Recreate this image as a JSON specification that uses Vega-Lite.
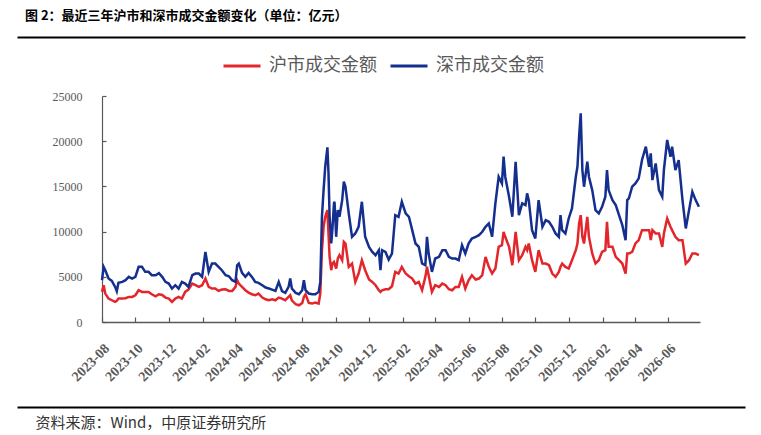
{
  "$schema": "https://vega.github.io/schema/vega-lite/v6.json",
  "autosize": {"type": "none"},
  "width": 598,
  "height": 226,
  "padding": {"left": 102, "top": 96, "right": 61, "bottom": 113},
  "background": "#ffffff",
  "title": {
    "text": "图 2：最近三年沪市和深市成交金额变化（单位：亿元）",
    "anchor": "start",
    "frame": "group",
    "dx": -77,
    "offset": 14,
    "font": "Noto Sans CJK SC",
    "fontSize": 13,
    "fontWeight": "bold",
    "color": "#000000"
  },
  "config": {
    "font": "Liberation Serif",
    "view": {"stroke": null}
  },
  "data": {
    "values": [
      {"date": "2023-08-01", "sh": 3329, "sz": 4622},
      {"date": "2023-08-04", "sh": 4068, "sz": 6099},
      {"date": "2023-08-07", "sh": 3145, "sz": 5730},
      {"date": "2023-08-13", "sh": 2591, "sz": 4807},
      {"date": "2023-08-19", "sh": 2406, "sz": 4550},
      {"date": "2023-08-25", "sh": 2221, "sz": 3883},
      {"date": "2023-08-28", "sh": 2332, "sz": 3403},
      {"date": "2023-08-31", "sh": 2591, "sz": 4327},
      {"date": "2023-09-07", "sh": 2591, "sz": 4437},
      {"date": "2023-09-13", "sh": 2628, "sz": 4622},
      {"date": "2023-09-19", "sh": 2775, "sz": 4991},
      {"date": "2023-09-25", "sh": 2775, "sz": 4807},
      {"date": "2023-10-01", "sh": 2960, "sz": 4991},
      {"date": "2023-10-07", "sh": 3514, "sz": 6099},
      {"date": "2023-10-13", "sh": 3329, "sz": 6099},
      {"date": "2023-10-19", "sh": 3329, "sz": 5545},
      {"date": "2023-10-25", "sh": 3329, "sz": 5545},
      {"date": "2023-10-31", "sh": 3071, "sz": 5176},
      {"date": "2023-11-07", "sh": 2849, "sz": 5176},
      {"date": "2023-11-13", "sh": 3071, "sz": 5398},
      {"date": "2023-11-19", "sh": 2997, "sz": 4991},
      {"date": "2023-11-25", "sh": 2701, "sz": 4437},
      {"date": "2023-12-01", "sh": 2591, "sz": 4253},
      {"date": "2023-12-07", "sh": 2221, "sz": 3699},
      {"date": "2023-12-13", "sh": 2591, "sz": 4068},
      {"date": "2023-12-19", "sh": 2775, "sz": 3699},
      {"date": "2023-12-25", "sh": 2591, "sz": 4437},
      {"date": "2023-12-31", "sh": 3329, "sz": 4253},
      {"date": "2024-01-06", "sh": 3588, "sz": 3883},
      {"date": "2024-01-13", "sh": 4253, "sz": 5176},
      {"date": "2024-01-19", "sh": 4068, "sz": 5361},
      {"date": "2024-01-25", "sh": 3883, "sz": 5361},
      {"date": "2024-01-31", "sh": 4068, "sz": 4991},
      {"date": "2024-02-06", "sh": 4807, "sz": 7761},
      {"date": "2024-02-12", "sh": 3883, "sz": 5545},
      {"date": "2024-02-18", "sh": 3699, "sz": 6468},
      {"date": "2024-02-24", "sh": 3699, "sz": 6468},
      {"date": "2024-03-01", "sh": 3440, "sz": 6099},
      {"date": "2024-03-07", "sh": 3588, "sz": 5730},
      {"date": "2024-03-14", "sh": 3625, "sz": 5176},
      {"date": "2024-03-20", "sh": 3440, "sz": 5065},
      {"date": "2024-03-26", "sh": 3440, "sz": 4622},
      {"date": "2024-04-01", "sh": 3883, "sz": 4437},
      {"date": "2024-04-04", "sh": 4622, "sz": 6284},
      {"date": "2024-04-07", "sh": 4253, "sz": 6468},
      {"date": "2024-04-13", "sh": 3883, "sz": 5435},
      {"date": "2024-04-19", "sh": 3514, "sz": 4991},
      {"date": "2024-04-25", "sh": 3256, "sz": 5435},
      {"date": "2024-05-01", "sh": 3071, "sz": 4991},
      {"date": "2024-05-07", "sh": 2960, "sz": 4437},
      {"date": "2024-05-13", "sh": 3145, "sz": 4327},
      {"date": "2024-05-20", "sh": 2701, "sz": 4068},
      {"date": "2024-05-26", "sh": 2517, "sz": 3810},
      {"date": "2024-06-01", "sh": 2406, "sz": 3699},
      {"date": "2024-06-07", "sh": 2517, "sz": 3588},
      {"date": "2024-06-13", "sh": 2406, "sz": 3440},
      {"date": "2024-06-19", "sh": 2701, "sz": 4437},
      {"date": "2024-06-25", "sh": 2591, "sz": 3403},
      {"date": "2024-07-01", "sh": 2406, "sz": 3218},
      {"date": "2024-07-07", "sh": 2775, "sz": 3883},
      {"date": "2024-07-10", "sh": 2960, "sz": 4807},
      {"date": "2024-07-13", "sh": 2406, "sz": 3699},
      {"date": "2024-07-20", "sh": 1963, "sz": 3218},
      {"date": "2024-07-26", "sh": 1852, "sz": 3071},
      {"date": "2024-08-01", "sh": 2111, "sz": 3514},
      {"date": "2024-08-04", "sh": 2775, "sz": 4622},
      {"date": "2024-08-07", "sh": 3071, "sz": 3514},
      {"date": "2024-08-13", "sh": 2111, "sz": 3145},
      {"date": "2024-08-19", "sh": 2037, "sz": 3071},
      {"date": "2024-08-25", "sh": 2148, "sz": 3071},
      {"date": "2024-08-31", "sh": 2037, "sz": 3329},
      {"date": "2024-09-03", "sh": 3145, "sz": 4437},
      {"date": "2024-09-06", "sh": 7946, "sz": 11639},
      {"date": "2024-09-09", "sh": 10531, "sz": 14593},
      {"date": "2024-09-12", "sh": 11639, "sz": 17178},
      {"date": "2024-09-16", "sh": 12377, "sz": 19320},
      {"date": "2024-09-18", "sh": 9792, "sz": 16440},
      {"date": "2024-09-20", "sh": 7207, "sz": 11639},
      {"date": "2024-09-23", "sh": 5730, "sz": 8684},
      {"date": "2024-09-25", "sh": 6468, "sz": 10161},
      {"date": "2024-09-28", "sh": 6653, "sz": 13116},
      {"date": "2024-09-29", "sh": 6468, "sz": 13301},
      {"date": "2024-10-02", "sh": 5915, "sz": 9423},
      {"date": "2024-10-05", "sh": 7022, "sz": 12377},
      {"date": "2024-10-08", "sh": 7392, "sz": 11639},
      {"date": "2024-10-13", "sh": 6838, "sz": 13485},
      {"date": "2024-10-16", "sh": 8869, "sz": 15516},
      {"date": "2024-10-19", "sh": 8684, "sz": 14962},
      {"date": "2024-10-25", "sh": 6099, "sz": 12008},
      {"date": "2024-10-31", "sh": 6468, "sz": 9423},
      {"date": "2024-11-06", "sh": 4437, "sz": 9792},
      {"date": "2024-11-12", "sh": 5361, "sz": 10531},
      {"date": "2024-11-18", "sh": 6838, "sz": 13301},
      {"date": "2024-11-24", "sh": 5730, "sz": 9423},
      {"date": "2024-12-01", "sh": 4696, "sz": 8315},
      {"date": "2024-12-07", "sh": 4437, "sz": 7761},
      {"date": "2024-12-13", "sh": 4068, "sz": 7392},
      {"date": "2024-12-19", "sh": 3514, "sz": 7946},
      {"date": "2024-12-22", "sh": 3329, "sz": 5730},
      {"date": "2024-12-25", "sh": 3514, "sz": 7946},
      {"date": "2024-12-31", "sh": 3625, "sz": 7761},
      {"date": "2025-01-06", "sh": 3625, "sz": 6911},
      {"date": "2025-01-12", "sh": 3957, "sz": 7576},
      {"date": "2025-01-18", "sh": 5545, "sz": 11823},
      {"date": "2025-01-24", "sh": 5361, "sz": 11639},
      {"date": "2025-01-30", "sh": 6099, "sz": 13301},
      {"date": "2025-02-06", "sh": 5361, "sz": 12008},
      {"date": "2025-02-12", "sh": 5065, "sz": 11639},
      {"date": "2025-02-18", "sh": 4807, "sz": 10161},
      {"date": "2025-02-24", "sh": 4253, "sz": 8684},
      {"date": "2025-03-02", "sh": 4437, "sz": 8315},
      {"date": "2025-03-08", "sh": 3514, "sz": 6468},
      {"date": "2025-03-14", "sh": 4991, "sz": 6284},
      {"date": "2025-03-17", "sh": 6099, "sz": 9423},
      {"date": "2025-03-20", "sh": 5176, "sz": 7576},
      {"date": "2025-03-26", "sh": 3329, "sz": 5545},
      {"date": "2025-04-01", "sh": 4068, "sz": 7022},
      {"date": "2025-04-08", "sh": 3883, "sz": 7207},
      {"date": "2025-04-14", "sh": 4253, "sz": 7946},
      {"date": "2025-04-20", "sh": 4068, "sz": 7946},
      {"date": "2025-04-26", "sh": 3625, "sz": 7207},
      {"date": "2025-05-02", "sh": 3514, "sz": 7022},
      {"date": "2025-05-08", "sh": 3883, "sz": 7022},
      {"date": "2025-05-14", "sh": 3883, "sz": 6838},
      {"date": "2025-05-20", "sh": 4991, "sz": 8499},
      {"date": "2025-05-26", "sh": 3699, "sz": 7576},
      {"date": "2025-06-01", "sh": 4622, "sz": 8684},
      {"date": "2025-06-07", "sh": 5176, "sz": 9238},
      {"date": "2025-06-14", "sh": 4696, "sz": 9423},
      {"date": "2025-06-20", "sh": 4807, "sz": 9607},
      {"date": "2025-06-26", "sh": 5176, "sz": 9977},
      {"date": "2025-07-02", "sh": 7207, "sz": 10531},
      {"date": "2025-07-08", "sh": 6099, "sz": 10900},
      {"date": "2025-07-14", "sh": 5361, "sz": 9423},
      {"date": "2025-07-20", "sh": 5915, "sz": 13116},
      {"date": "2025-07-26", "sh": 8315, "sz": 16070},
      {"date": "2025-08-01", "sh": 8499, "sz": 15332},
      {"date": "2025-08-04", "sh": 9977, "sz": 18286},
      {"date": "2025-08-07", "sh": 9423, "sz": 16070},
      {"date": "2025-08-14", "sh": 8315, "sz": 13854},
      {"date": "2025-08-20", "sh": 6284, "sz": 11639},
      {"date": "2025-08-26", "sh": 9977, "sz": 17732},
      {"date": "2025-09-01", "sh": 6838, "sz": 11823},
      {"date": "2025-09-07", "sh": 7392, "sz": 13116},
      {"date": "2025-09-13", "sh": 8315, "sz": 12931},
      {"date": "2025-09-16", "sh": 7946, "sz": 14224},
      {"date": "2025-09-19", "sh": 8684, "sz": 13485},
      {"date": "2025-09-25", "sh": 6838, "sz": 10161},
      {"date": "2025-10-01", "sh": 5545, "sz": 9238},
      {"date": "2025-10-07", "sh": 7946, "sz": 13485},
      {"date": "2025-10-14", "sh": 6468, "sz": 10531},
      {"date": "2025-10-20", "sh": 6468, "sz": 11269},
      {"date": "2025-10-26", "sh": 6284, "sz": 11085},
      {"date": "2025-11-01", "sh": 5361, "sz": 10531},
      {"date": "2025-11-07", "sh": 4991, "sz": 9792},
      {"date": "2025-11-13", "sh": 5545, "sz": 9423},
      {"date": "2025-11-16", "sh": 6099, "sz": 11823},
      {"date": "2025-11-19", "sh": 6468, "sz": 10161},
      {"date": "2025-11-25", "sh": 6099, "sz": 9792},
      {"date": "2025-12-01", "sh": 5915, "sz": 11454},
      {"date": "2025-12-07", "sh": 6838, "sz": 12562},
      {"date": "2025-12-14", "sh": 7946, "sz": 16070},
      {"date": "2025-12-17", "sh": 8684, "sz": 17178},
      {"date": "2025-12-20", "sh": 10900, "sz": 20502},
      {"date": "2025-12-23", "sh": 11823, "sz": 23087},
      {"date": "2025-12-26", "sh": 9423, "sz": 16809},
      {"date": "2025-12-29", "sh": 8684, "sz": 14962},
      {"date": "2026-01-04", "sh": 11639, "sz": 17732},
      {"date": "2026-01-07", "sh": 9423, "sz": 16070},
      {"date": "2026-01-13", "sh": 7576, "sz": 14593},
      {"date": "2026-01-19", "sh": 6468, "sz": 12377},
      {"date": "2026-01-25", "sh": 6838, "sz": 12008},
      {"date": "2026-01-31", "sh": 7761, "sz": 12747},
      {"date": "2026-02-06", "sh": 7946, "sz": 13854},
      {"date": "2026-02-09", "sh": 11085, "sz": 16809},
      {"date": "2026-02-12", "sh": 8315, "sz": 14593},
      {"date": "2026-02-19", "sh": 8315, "sz": 13485},
      {"date": "2026-02-25", "sh": 7207, "sz": 12931},
      {"date": "2026-03-03", "sh": 6838, "sz": 11823},
      {"date": "2026-03-09", "sh": 6468, "sz": 10715},
      {"date": "2026-03-15", "sh": 5361, "sz": 9053},
      {"date": "2026-03-18", "sh": 7576, "sz": 13485},
      {"date": "2026-03-21", "sh": 7576, "sz": 13670},
      {"date": "2026-03-27", "sh": 7761, "sz": 14962},
      {"date": "2026-04-02", "sh": 8684, "sz": 15332},
      {"date": "2026-04-08", "sh": 9053, "sz": 15886},
      {"date": "2026-04-14", "sh": 10161, "sz": 17917},
      {"date": "2026-04-21", "sh": 10161, "sz": 19394},
      {"date": "2026-04-27", "sh": 10161, "sz": 17178},
      {"date": "2026-04-30", "sh": 9053, "sz": 18655},
      {"date": "2026-05-03", "sh": 10161, "sz": 15701},
      {"date": "2026-05-09", "sh": 9792, "sz": 17547},
      {"date": "2026-05-15", "sh": 9792, "sz": 14593},
      {"date": "2026-05-21", "sh": 8315, "sz": 13854},
      {"date": "2026-05-24", "sh": 9792, "sz": 16809},
      {"date": "2026-05-30", "sh": 11454, "sz": 20132},
      {"date": "2026-06-05", "sh": 10531, "sz": 18286},
      {"date": "2026-06-08", "sh": 10161, "sz": 19394},
      {"date": "2026-06-14", "sh": 9423, "sz": 16809},
      {"date": "2026-06-20", "sh": 9053, "sz": 17917},
      {"date": "2026-06-27", "sh": 9053, "sz": 13485},
      {"date": "2026-07-03", "sh": 6468, "sz": 10346},
      {"date": "2026-07-09", "sh": 6838, "sz": 12377},
      {"date": "2026-07-15", "sh": 7576, "sz": 14408},
      {"date": "2026-07-21", "sh": 7576, "sz": 13485},
      {"date": "2026-07-27", "sh": 7392, "sz": 12747}
    ]
  },
  "transform": [{"fold": ["sh", "sz"], "as": ["market", "value"]}],
  "layer": [
    {
      "mark": {"type": "line", "strokeWidth": 2.5, "interpolate": "linear"},
      "encoding": {
        "x": {
          "field": "date",
          "type": "temporal",
          "scale": {
            "type": "utc",
            "domain": [
              {"year": 2023, "month": 8, "date": 1, "utc": true},
              {"year": 2026, "month": 7, "date": 29, "utc": true}
            ]
          },
          "axis": {
            "orient": "bottom",
            "title": null,
            "grid": false,
            "values": [
              {"year": 2023, "month": 8, "date": 1, "utc": true},
              {"year": 2023, "month": 10, "date": 1, "utc": true},
              {"year": 2023, "month": 12, "date": 1, "utc": true},
              {"year": 2024, "month": 2, "date": 1, "utc": true},
              {"year": 2024, "month": 4, "date": 1, "utc": true},
              {"year": 2024, "month": 6, "date": 1, "utc": true},
              {"year": 2024, "month": 8, "date": 1, "utc": true},
              {"year": 2024, "month": 10, "date": 1, "utc": true},
              {"year": 2024, "month": 12, "date": 1, "utc": true},
              {"year": 2025, "month": 2, "date": 1, "utc": true},
              {"year": 2025, "month": 4, "date": 1, "utc": true},
              {"year": 2025, "month": 6, "date": 1, "utc": true},
              {"year": 2025, "month": 8, "date": 1, "utc": true},
              {"year": 2025, "month": 10, "date": 1, "utc": true},
              {"year": 2025, "month": 12, "date": 1, "utc": true},
              {"year": 2026, "month": 2, "date": 1, "utc": true},
              {"year": 2026, "month": 4, "date": 1, "utc": true},
              {"year": 2026, "month": 6, "date": 1, "utc": true}
            ],
            "format": "%Y-%m",
            "labelAngle": -45,
            "labelAlign": "right",
            "labelBaseline": "top",
            "labelFlush": false,
            "labelOverlap": false,
            "labelBound": false,
            "labelFont": "Liberation Serif",
            "labelFontSize": 14,
            "labelFontWeight": "bold",
            "labelColor": "#595959",
            "labelPadding": 24,
            "domainColor": "#595959",
            "domainWidth": 1.5,
            "tickColor": "#595959",
            "tickSize": -5,
            "tickWidth": 1.2
          }
        },
        "y": {
          "field": "value",
          "type": "quantitative",
          "scale": {"domain": [0, 25000], "nice": false},
          "axis": {
            "orient": "left",
            "title": null,
            "grid": false,
            "values": [0, 5000, 10000, 15000, 20000, 25000],
            "format": "d",
            "labelFont": "Liberation Serif",
            "labelFontSize": 12,
            "labelColor": "#595959",
            "labelPadding": 24,
            "domainColor": "#595959",
            "domainWidth": 1.2,
            "tickColor": "#595959",
            "tickSize": -4,
            "tickWidth": 1.2
          }
        },
        "color": {
          "field": "market",
          "type": "nominal",
          "scale": {"domain": ["sh", "sz"], "range": ["#E3262B", "#142F8E"]},
          "legend": {
            "orient": "none",
            "legendX": 120,
            "legendY": -50,
            "direction": "horizontal",
            "title": null,
            "symbolType": "stroke",
            "symbolSize": 1369,
            "symbolStrokeWidth": 3,
            "labelFont": "Noto Sans CJK SC",
            "labelFontSize": 18,
            "labelColor": "#595959",
            "labelOffset": 7,
            "columnPadding": 7,
            "labelExpr": "datum.label == 'sh' ? '沪市成交金额' : '深市成交金额'"
          }
        }
      }
    },
    {
      "mark": {"type": "rule", "opacity": 0},
      "encoding": {
        "x": {
          "field": "date",
          "type": "temporal",
          "scale": {
            "type": "utc",
            "domain": [
              {"year": 2023, "month": 8, "date": 1, "utc": true},
              {"year": 2026, "month": 7, "date": 29, "utc": true}
            ],
            "range": [-85, 643]
          },
          "axis": {
            "orient": "top",
            "offset": 59,
            "title": null,
            "grid": false,
            "labels": false,
            "ticks": false,
            "domainColor": "#000000",
            "domainWidth": 2
          }
        }
      }
    },
    {
      "mark": {"type": "rule", "opacity": 0},
      "encoding": {
        "x": {
          "field": "date",
          "type": "temporal",
          "scale": {
            "type": "utc",
            "domain": [
              {"year": 2023, "month": 8, "date": 1, "utc": true},
              {"year": 2026, "month": 7, "date": 29, "utc": true}
            ],
            "range": [-85, 643]
          },
          "axis": {
            "orient": "bottom",
            "offset": 85,
            "grid": false,
            "labels": false,
            "ticks": false,
            "domainColor": "#000000",
            "domainWidth": 2,
            "title": "资料来源：Wind，中原证券研究所",
            "titleFont": "Noto Sans CJK SC",
            "titleFontSize": 15,
            "titleFontWeight": "normal",
            "titleColor": "#333333",
            "titleAnchor": "start",
            "titleAlign": "left",
            "titleBaseline": "middle",
            "titleX": -67,
            "titleY": 15
          }
        }
      }
    }
  ],
  "resolve": {"scale": {"x": "independent"}, "axis": {"x": "independent"}}
}
